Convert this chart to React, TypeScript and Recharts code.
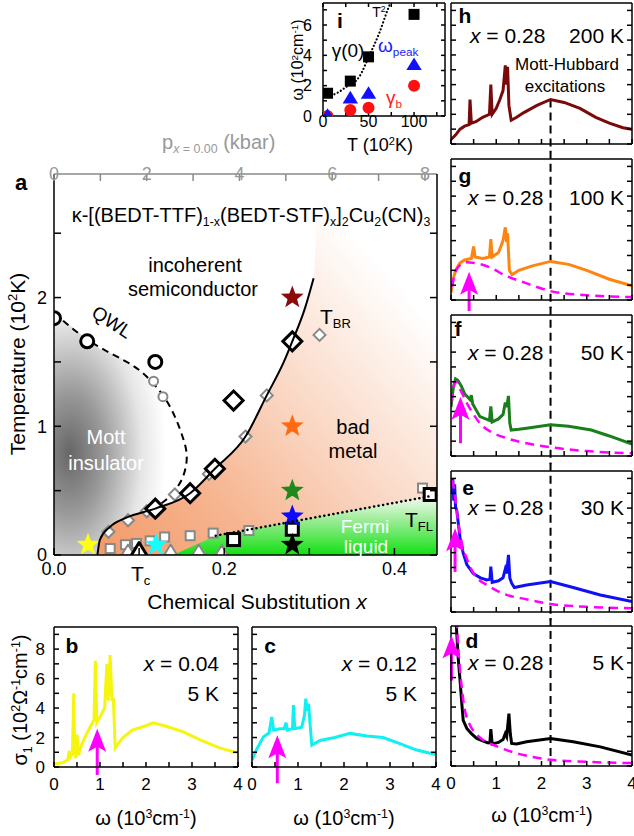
import React from 'react';
import {
  ComposedChart, Line, Area, Scatter, XAxis, YAxis, ReferenceLine, ReferenceDot,
} from 'recharts';

const FONT = '"Liberation Sans", Arial, Helvetica, sans-serif';
const MAG = '#ff00ff';

type Pt = [number, number];
const toXY = (a: Pt[]) => a.map(([x, y]) => ({ x, y }));

// ---------- panel a: phase diagram, x vs T (10^2 K) ----------
const aXTicks = [0, 0.1, 0.2, 0.3, 0.4];
const aXLabels: Record<string, string> = { '0': '0.0', '0.2': '0.2', '0.4': '0.4' };
const aYTicks = [0, 0.5, 1, 1.5, 2, 2.5];
const pTicks = [0, 1, 2, 3, 4, 5, 6, 7, 8]; // kbar, top axis
const X_PER_KBAR = 0.45 / 8.26; // x = 0.45 sits at 8.26 kbar

const qwlCurve: Pt[] = [
  [0, 1.88], [0.04, 1.67], [0.08, 1.52], [0.105, 1.41], [0.128, 1.24], [0.143, 1.06],
  [0.152, 0.9], [0.156, 0.76], [0.151, 0.6], [0.138, 0.47], [0.124, 0.39],
];
const tbrCurve: Pt[] = [
  [0.051, 0], [0.054, 0.12], [0.066, 0.22], [0.085, 0.29], [0.119, 0.36], [0.16, 0.48],
  [0.189, 0.67], [0.225, 0.92], [0.25, 1.24], [0.27, 1.5], [0.28, 1.66], [0.295, 1.92], [0.305, 2.15],
];
const tflCurve: Pt[] = [[0.19, 0.15], [0.445, 0.46]];
// x, lower T, upper T
const mottRegion: [number, number, number][] = [
  [0, 0, 1.88], [0.02, 0, 1.78], [0.04, 0, 1.67], [0.051, 0, 1.62], [0.054, 0.12, 1.6],
  [0.066, 0.22, 1.57], [0.085, 0.29, 1.51], [0.105, 0.33, 1.41], [0.124, 0.39, 1.27],
  [0.138, 0.47, 1.12], [0.145, 0.52, 1.03], [0.151, 0.6, 0.92], [0.155, 0.68, 0.8], [0.157, 0.76, 0.77],
];
const badMetalRegion: Pt[] = [...tbrCurve, [0.312, 2.96], [0.45, 2.96]];
const fermiRegion: Pt[] = [[0.14, 0], [0.19, 0.15], [0.445, 0.46], [0.45, 0.47]];

const bigDiamonds: Pt[] = [[0.119, 0.36], [0.16, 0.48], [0.189, 0.67], [0.211, 1.2], [0.28, 1.66]];
const smallDiamonds: Pt[] = [
  [0.064, 0.18], [0.087, 0.27], [0.109, 0.34], [0.142, 0.47], [0.182, 0.63], [0.225, 0.92], [0.25, 1.24], [0.312, 1.71],
];
const bigCircles: Pt[] = [[0.0, 1.84], [0.039, 1.66], [0.119, 1.5]];
const smallCircles: Pt[] = [[0.117, 1.35], [0.128, 1.23]];
const bigSquares: Pt[] = [[0.211, 0.12], [0.28, 0.2], [0.442, 0.47]];
const smallSquares: Pt[] = [
  [0.066, 0.05], [0.084, 0.08], [0.097, 0.09], [0.113, 0.11], [0.13, 0.14], [0.16, 0.15], [0.187, 0.17], [0.229, 0.19], [0.433, 0.52],
];
const smallTriangles: Pt[] = [[0.087, 0.035], [0.137, 0.035], [0.17, 0.035], [0.197, 0.03]];
const tcTriangle: Pt[] = [[0.1, 0.035]];
const starPts: Pt[] = [[0.04, 0.08], [0.12, 0.08], [0.28, 0.08], [0.28, 0.3], [0.28, 0.5], [0.28, 1.0], [0.28, 2.0]];

// ---------- panel i: inset, T (10^2 K) vs omega (10^2 cm-1) ----------
const iXTicks = [0, 25, 50, 75, 100, 125];
const iYTicks = [0, 1, 2, 3, 4, 5, 6, 7];
const gamma0: Pt[] = [[5, 1.5], [30, 2.3], [50, 3.9], [100, 6.7]];
const omegaPeak: Pt[] = [[5, 0.05], [30, 1.2], [50, 1.5], [100, 3.4]];
const gammaB: Pt[] = [[5, 0.0], [30, 0.4], [50, 0.55], [100, 2.0]];
const t2Fit: Pt[] = [[5, 1.3], [15, 1.5], [25, 1.9], [40, 2.6], [51, 4.0], [62, 5.5], [71, 7.0], [74, 7.45]];

// ---------- spectra, omega (10^3 cm-1) vs sigma1 (10^2 Ohm-1 cm-1) ----------
const wTicks = [0, 0.5, 1, 1.5, 2, 2.5, 3, 3.5, 4];
const sTicks = [0, 1, 2, 3, 4, 5, 6, 7, 8, 9];

const specB: Pt[] = [
  [0, 0.2], [0.2, 0.3], [0.3, 0.5], [0.33, 1.1], [0.36, 0.7], [0.4, 0.9], [0.43, 5.0], [0.45, 1.0], [0.47, 0.6],
  [0.5, 2.2], [0.53, 0.8], [0.6, 1.5], [0.7, 2.2], [0.8, 2.8], [0.87, 3.2], [0.9, 7.2], [0.93, 3.0], [1.0, 3.4],
  [1.1, 4.0], [1.15, 7.0], [1.18, 4.5], [1.22, 7.6], [1.26, 4.5], [1.29, 4.7], [1.33, 1.3], [1.4, 1.6], [1.5, 2.0],
  [1.7, 2.5], [2.0, 2.8], [2.15, 3.0], [2.4, 2.8], [2.8, 2.4], [3.2, 1.8], [3.6, 1.3], [4.0, 0.95],
];
const specC: Pt[] = [
  [0, 0.47], [0.1, 1.2], [0.25, 2.05], [0.37, 2.3], [0.43, 3.4], [0.47, 2.5], [0.6, 2.6], [0.7, 2.6], [0.74, 3.0],
  [0.77, 2.5], [0.88, 2.6], [0.9, 4.2], [0.93, 2.6], [1.08, 2.7], [1.14, 3.5], [1.17, 4.64], [1.2, 3.8], [1.23, 4.3],
  [1.27, 2.6], [1.3, 1.49], [1.48, 1.8], [1.8, 2.0], [2.13, 2.28], [2.5, 2.1], [2.85, 2.0], [3.2, 1.6], [3.58, 1.15], [4.0, 0.84],
];
const specH: Pt[] = [
  [0, 0.3], [0.1, 0.6], [0.2, 1.0], [0.3, 1.2], [0.4, 1.3], [0.42, 3.0], [0.45, 1.4], [0.55, 1.5], [0.7, 1.8],
  [0.85, 2.0], [0.88, 4.0], [0.91, 2.0], [1.0, 2.4], [1.08, 3.0], [1.15, 3.6], [1.2, 5.3], [1.23, 4.0], [1.25, 5.2],
  [1.28, 2.6], [1.33, 1.6], [1.45, 1.8], [1.6, 2.1], [1.9, 2.6], [2.2, 3.0], [2.5, 2.8], [2.85, 2.4], [3.2, 1.8],
  [3.5, 1.4], [3.8, 1.1], [4.0, 1.0],
];
const specG: Pt[] = [
  [0, 0.5], [0.05, 1.4], [0.1, 2.0], [0.2, 2.5], [0.3, 2.7], [0.45, 2.8], [0.5, 3.6], [0.53, 2.9], [0.7, 2.8],
  [0.85, 2.9], [0.88, 4.1], [0.91, 2.9], [1.05, 3.2], [1.15, 4.0], [1.2, 4.9], [1.23, 3.9], [1.25, 4.5], [1.29, 2.0],
  [1.35, 1.7], [1.5, 2.0], [1.8, 2.3], [2.2, 2.6], [2.6, 2.4], [3.0, 2.0], [3.5, 1.4], [4.0, 0.95],
];
const fitG: Pt[] = [
  [0.02, 0.9], [0.1, 1.9], [0.2, 2.35], [0.35, 2.55], [0.5, 2.5], [0.86, 2.2], [1.2, 1.65], [1.6, 1.2], [2.2, 0.6], [3.0, 0.32], [4.0, 0.2],
];
const specF: Pt[] = [
  [0, 3.3], [0.05, 4.6], [0.1, 5.2], [0.15, 5.1], [0.23, 4.7], [0.3, 4.2], [0.42, 3.8], [0.45, 4.1], [0.48, 3.5],
  [0.64, 2.65], [0.85, 2.4], [0.88, 3.35], [0.91, 2.3], [1.05, 2.5], [1.15, 2.8], [1.2, 3.6], [1.23, 3.3], [1.27, 4.05],
  [1.3, 2.2], [1.33, 1.75], [1.5, 1.8], [1.67, 1.87], [2.2, 2.1], [2.6, 2.0], [3.1, 1.75], [3.5, 1.35], [4.0, 0.8],
];
const fitF: Pt[] = [
  [0, 3.6], [0.05, 4.6], [0.12, 5.0], [0.2, 4.5], [0.35, 3.56], [0.5, 2.8], [0.64, 2.2], [0.9, 1.6], [1.23, 1.2],
  [1.6, 0.9], [2.2, 0.59], [3.0, 0.33], [4.0, 0.18],
];
const specE: Pt[] = [
  [0.02, 8.0], [0.04, 9.0], [0.06, 7.5], [0.08, 8.6], [0.1, 7.1], [0.13, 6.8], [0.16, 6.0], [0.2, 5.0], [0.27, 3.96],
  [0.35, 3.2], [0.49, 2.6], [0.65, 2.3], [0.79, 2.16], [0.86, 2.2], [0.88, 3.06], [0.91, 2.0], [1.05, 2.1], [1.15, 2.3],
  [1.2, 2.9], [1.23, 2.6], [1.27, 3.85], [1.3, 2.3], [1.34, 1.94], [1.4, 1.65], [1.67, 1.82], [2.2, 2.05], [2.7, 1.65],
  [3.3, 1.15], [4.0, 0.7],
];
const fitE: Pt[] = [
  [0.03, 8.9], [0.08, 8.0], [0.16, 6.0], [0.25, 4.5], [0.35, 3.6], [0.5, 2.6], [0.86, 1.7], [1.23, 1.15], [1.6, 0.9],
  [2.2, 0.54], [3.0, 0.35], [4.0, 0.25],
];
const specD: Pt[] = [
  [0.08, 14], [0.12, 9.4], [0.16, 7.3], [0.2, 5.8], [0.24, 4.2], [0.27, 3.1], [0.35, 2.55], [0.45, 2.2], [0.57, 1.87],
  [0.7, 1.7], [0.82, 1.57], [0.86, 1.6], [0.88, 2.5], [0.91, 1.5], [1.05, 1.6], [1.15, 1.8], [1.2, 2.2], [1.23, 2.0],
  [1.28, 3.56], [1.31, 2.2], [1.34, 1.53], [1.45, 1.5], [1.67, 1.64], [2.2, 1.87], [2.7, 1.65], [3.3, 1.3], [4.0, 0.74],
];
const fitD: Pt[] = [
  [0.1, 12], [0.15, 8.5], [0.2, 6.5], [0.25, 5.0], [0.3, 3.9], [0.4, 2.9], [0.55, 2.2], [0.71, 1.76], [1.0, 1.35],
  [1.23, 1.08], [1.6, 0.75], [2.2, 0.42], [3.0, 0.28], [4.0, 0.2],
];
// arrows: omega, tail sigma, tip sigma
const arrowB: [number, number, number] = [0.94, -0.54, 2.6];
const arrowC: [number, number, number] = [0.55, -1.1, 2.16];
const arrowG: [number, number, number] = [0.4, -1.15, 1.9];
const arrowF: [number, number, number] = [0.21, 0.86, 4.0];
const arrowE: [number, number, number] = [0.09, 2.7, 5.65];
const arrowD: [number, number, number] = [0.01, 5.8, 8.85];
const mottHubbardPeak = 2.2;

// ---------- marker shapes ----------
const diamond = (h: number, stroke: string, sw: number) => (p: any) => (
  <path d={`M${p.cx},${p.cy - h}L${p.cx + h},${p.cy}L${p.cx},${p.cy + h}L${p.cx - h},${p.cy}Z`} fill="#fff" stroke={stroke} strokeWidth={sw} />
);
const circle = (r: number, stroke: string, sw: number, fill = '#fff') => (p: any) => (
  <circle cx={p.cx} cy={p.cy} r={r} fill={fill} stroke={stroke} strokeWidth={sw} />
);
const square = (h: number, stroke: string, sw: number, fill = '#fff') => (p: any) => (
  <rect x={p.cx - h} y={p.cy - h} width={2 * h} height={2 * h} fill={fill} stroke={stroke} strokeWidth={sw} />
);
const triangle = (h: number, stroke: string, sw: number, fill = '#fff') => (p: any) => (
  <path d={`M${p.cx},${p.cy - h}L${p.cx + h * 1.1},${p.cy + h * 0.8}L${p.cx - h * 1.1},${p.cy + h * 0.8}Z`} fill={fill} stroke={stroke} strokeWidth={sw} strokeLinejoin="round" />
);
const star = (R: number, fill: string) => (p: any) => {
  const pts: string[] = [];
  for (let i = 0; i < 10; i++) {
    const r = i % 2 === 0 ? R : R * 0.42;
    const a = -Math.PI / 2 + (i * Math.PI) / 5;
    pts.push(`${p.cx + r * Math.cos(a)},${p.cy + r * Math.sin(a)}`);
  }
  return <polygon points={pts.join(' ')} fill={fill} />;
};
const arrowHead = (p: any) => (
  <polygon points={`${p.cx},${p.cy} ${p.cx + 9},${p.cy + 23} ${p.cx},${p.cy + 18} ${p.cx - 9},${p.cy + 23}`} fill={MAG} />
);

const STAR_COLORS = ['#ffff10', '#10ffff', '#000000', '#0a0aff', '#1e8a1e', '#ff6a10', '#8b0a0a'];

// ---------- text helper ----------
type TxtProps = {
  x: number; y: number; size?: number; color?: string; anchor?: 'start' | 'middle' | 'end';
  bold?: boolean; rotate?: number; children: React.ReactNode;
};
const Txt = ({ x, y, size = 20, color = '#000', anchor = 'middle', bold, rotate, children }: TxtProps) => {
  const tx = anchor === 'start' ? '0' : anchor === 'end' ? '-100%' : '-50%';
  return (
    <div style={{
      position: 'absolute', left: x, top: y, transform: `translate(${tx}, -50%)${rotate ? ` rotate(${rotate}deg)` : ''}`,
      fontSize: size, color, fontFamily: FONT, fontWeight: bold ? 'bold' : 'normal', whiteSpace: 'nowrap', lineHeight: 1,
    }}>
      {children}
    </div>
  );
};
const Sub = ({ children }: { children: React.ReactNode }) => (
  <span style={{ fontSize: '0.62em', verticalAlign: '-0.35em' }}>{children}</span>
);
const Sup = ({ children }: { children: React.ReactNode }) => (
  <span style={{ fontSize: '0.62em', verticalAlign: '0.6em' }}>{children}</span>
);

// ---------- panel a ----------
const A_BOX = { L: 0, T: 120, W: 450, H: 480 };
const A_PLOT = { l: 54, t: 174, r: 437, b: 555 };

// regions, QWL curve and markers, on hidden axes
function PhaseContent() {
  const { L, T, W, H } = A_BOX;
  const margin = { left: A_PLOT.l - L, top: A_PLOT.t - T, right: L + W - A_PLOT.r, bottom: T + H - A_PLOT.b };
  return (
    <div style={{ position: 'absolute', left: L, top: T }}>
      <ComposedChart width={W} height={H} margin={margin}>
        <defs>
          <radialGradient id="mottGrad" cx="0.12" cy="0.58" r="0.72">
            <stop offset="0" stopColor="#666" />
            <stop offset="0.35" stopColor="#9a9a9a" />
            <stop offset="0.75" stopColor="#e6e6e6" />
            <stop offset="1" stopColor="#fff" />
          </radialGradient>
          <linearGradient id="badGrad" x1="0" y1="1" x2="0.8" y2="0.2">
            <stop offset="0" stopColor="#f39a68" />
            <stop offset="0.3" stopColor="#f6b48f" />
            <stop offset="0.6" stopColor="#fad6c2" />
            <stop offset="0.85" stopColor="#fdf0e8" />
            <stop offset="1" stopColor="#fff" />
          </linearGradient>
          <linearGradient id="flGrad" x1="0" y1="0" x2="0" y2="1">
            <stop offset="0" stopColor="#ffffff" stopOpacity="0.9" />
            <stop offset="0.45" stopColor="#8cee8c" stopOpacity="0.92" />
            <stop offset="1" stopColor="#10e010" stopOpacity="1" />
          </linearGradient>
        </defs>
        <XAxis dataKey="x" type="number" domain={[0, 0.45]} allowDataOverflow hide />
        <YAxis type="number" domain={[0, 2.96]} allowDataOverflow hide />
        <Area data={mottRegion.map(([x, lo, hi]) => ({ x, r: [lo, hi] }))} dataKey="r" type="linear"
          stroke="none" fill="url(#mottGrad)" fillOpacity={1} isAnimationActive={false} />
        <Area data={toXY(badMetalRegion)} dataKey="y" type="monotone" stroke="none" fill="url(#badGrad)"
          fillOpacity={1} isAnimationActive={false} />
        <Area data={toXY(fermiRegion)} dataKey="y" type="linear" stroke="none" fill="url(#flGrad)"
          fillOpacity={1} isAnimationActive={false} />
        <Line data={toXY(qwlCurve)} dataKey="y" type="natural" stroke="#000" strokeWidth={2}
          strokeDasharray="7 5" dot={false} activeDot={false} isAnimationActive={false} />
        <Scatter data={toXY(smallDiamonds)} dataKey="y" shape={diamond(6, '#888', 2)} isAnimationActive={false} />
        <Scatter data={toXY(smallCircles)} dataKey="y" shape={circle(4.5, '#888', 2)} isAnimationActive={false} />
        <Scatter data={toXY(smallSquares)} dataKey="y" shape={square(4.5, '#888', 2)} isAnimationActive={false} />
        <Scatter data={toXY(smallTriangles)} dataKey="y" shape={triangle(6, '#888', 2)} isAnimationActive={false} />
        <Scatter data={toXY(bigDiamonds)} dataKey="y" shape={diamond(9.5, '#000', 3)} isAnimationActive={false} />
        <Scatter data={toXY(bigCircles)} dataKey="y" shape={circle(6.5, '#000', 3)} isAnimationActive={false} />
        <Scatter data={toXY(bigSquares)} dataKey="y" shape={square(6, '#000', 3)} isAnimationActive={false} />
        <Scatter data={toXY(tcTriangle)} dataKey="y" shape={triangle(8, '#000', 3)} isAnimationActive={false} />
        {starPts.map((s, i) => (
          <Scatter key={i} data={toXY([s])} dataKey="y" shape={star(12, STAR_COLORS[i])} isAnimationActive={false} />
        ))}
      </ComposedChart>
    </div>
  );
}

// bottom + left axes, with the T_BR line
function PhaseFrameBL() {
  const { L, T, W, H } = A_BOX;
  const margin = { left: A_PLOT.l - L - 30, top: A_PLOT.t - T, right: L + W - A_PLOT.r, bottom: T + H - A_PLOT.b - 30 };
  const tick = { fill: '#000', fontSize: 18, fontFamily: FONT };
  return (
    <div style={{ position: 'absolute', left: L, top: T }}>
      <ComposedChart width={W} height={H} margin={margin}>
        <XAxis dataKey="x" type="number" domain={[0, 0.45]} ticks={aXTicks} interval={0} allowDataOverflow
          height={30} tickSize={-7} tickMargin={14} stroke="#000" strokeWidth={1.5} tick={tick}
          tickFormatter={(v: number) => aXLabels[String(v)] ?? ''} />
        <YAxis type="number" domain={[0, 2.96]} ticks={aYTicks} interval={0} allowDataOverflow width={30}
          tickSize={-7} tickMargin={14} stroke="#000" strokeWidth={1.5} tick={tick}
          tickFormatter={(v: number) => (Number.isInteger(v) ? String(v) : '')} />
        <Line data={toXY(tbrCurve)} dataKey="y" type="monotone" stroke="#000" strokeWidth={2}
          dot={false} activeDot={false} isAnimationActive={false} />
      </ComposedChart>
    </div>
  );
}

// top (pressure) + right axes, with the T_FL line
function PhaseFrameTR() {
  const { L, T, W, H } = A_BOX;
  const margin = { left: A_PLOT.l - L, top: A_PLOT.t - T - 30, right: L + W - A_PLOT.r - 1, bottom: T + H - A_PLOT.b };
  const tick = { fill: '#999', fontSize: 18, fontFamily: FONT };
  return (
    <div style={{ position: 'absolute', left: L, top: T }}>
      <ComposedChart width={W} height={H} margin={margin}>
        <XAxis dataKey="x" orientation="top" type="number" domain={[0, 0.45]}
          ticks={pTicks.map((k) => k * X_PER_KBAR)} interval={0} allowDataOverflow
          height={30} tickSize={-7} tickMargin={1} stroke="#8a8a8a" strokeWidth={1.5} tick={tick}
          tickFormatter={(v: number) => {
            const k = Math.round(v / X_PER_KBAR);
            return k % 2 === 0 ? String(k) : '';
          }} />
        <YAxis orientation="right" type="number" domain={[0, 2.96]} ticks={aYTicks} interval={0} allowDataOverflow
          width={1} tickSize={-7} stroke="#000" strokeWidth={1.5} tickFormatter={() => ''} />
        <Line data={toXY(tflCurve)} dataKey="y" type="linear" stroke="#000" strokeWidth={2.5}
          strokeDasharray="0.1 4.5" strokeLinecap="round" dot={false} activeDot={false} isAnimationActive={false} />
      </ComposedChart>
    </div>
  );
}

// ---------- panel i ----------
const I_BOX = { L: 270, T: 0, W: 180, H: 140 };
const I_PLOT = { l: 323, t: 3, r: 445, b: 116 };

function Inset() {
  const { L, T, W, H } = I_BOX;
  const margin = { left: I_PLOT.l - L - 20, top: I_PLOT.t - T, right: L + W - I_PLOT.r, bottom: T + H - I_PLOT.b - 20 };
  const tick = { fill: '#000', fontSize: 16, fontFamily: FONT };
  return (
    <div style={{ position: 'absolute', left: L, top: T }}>
      <ComposedChart width={W} height={H} margin={margin}>
        <XAxis dataKey="x" type="number" domain={[0, 134]} ticks={iXTicks} interval={0} allowDataOverflow
          height={20} tickSize={-4} tickMargin={4} stroke="#000" strokeWidth={1.5} tick={tick}
          tickFormatter={(v: number) => (v % 50 === 0 ? String(v) : '')} />
        <YAxis type="number" domain={[0, 7.45]} ticks={iYTicks} interval={0} allowDataOverflow width={20}
          tickSize={-4} tickMargin={15} stroke="#000" strokeWidth={1.5} tick={tick}
          tickFormatter={(v: number) => (v % 2 === 0 ? String(v) : '')} />
        <Line data={toXY(t2Fit)} dataKey="y" type="monotone" stroke="#000" strokeWidth={2.2}
          strokeDasharray="0.1 3.5" strokeLinecap="round" dot={false} activeDot={false} isAnimationActive={false} />
        <Scatter data={toXY(gammaB)} dataKey="y" shape={circle(6, '#ff1010', 0, '#ff1010')} isAnimationActive={false} />
        <Scatter data={toXY(omegaPeak)} dataKey="y" shape={triangle(7, '#1010ff', 0, '#1010ff')} isAnimationActive={false} />
        <Scatter data={toXY(gamma0)} dataKey="y" shape={square(5.5, '#000', 0, '#000')} isAnimationActive={false} />
      </ComposedChart>
    </div>
  );
}

function InsetFrameTR() {
  const { L, T, W, H } = I_BOX;
  const margin = { left: I_PLOT.l - L, top: I_PLOT.t - T - 1, right: L + W - I_PLOT.r - 1, bottom: T + H - I_PLOT.b };
  return (
    <div style={{ position: 'absolute', left: L, top: T }}>
      <ComposedChart width={W} height={H} margin={margin}>
        <XAxis dataKey="x" orientation="top" type="number" domain={[0, 134]} ticks={iXTicks} interval={0}
          allowDataOverflow height={1} tickSize={-4} stroke="#000" strokeWidth={1.5} tickFormatter={() => ''} />
        <YAxis orientation="right" type="number" domain={[0, 7.45]} ticks={iYTicks} interval={0} allowDataOverflow
          width={1} tickSize={-4} stroke="#000" strokeWidth={1.5} tickFormatter={() => ''} />
        <Line data={toXY(gamma0)} dataKey="y" type="linear" stroke="none" dot={false} activeDot={false}
          isAnimationActive={false} />
      </ComposedChart>
    </div>
  );
}

// ---------- spectra ----------
type SpecProps = {
  box: [number, number, number, number];
  plot: [number, number, number, number];
  yw: number; xh: number;
  spec: Pt[]; color: string; fit?: Pt[];
  arrow?: [number, number, number];
  vline?: [number, number];
  xLabels?: boolean; yLabels?: boolean;
};

function SpecPanel({ box, plot, yw, xh, spec, color, fit, arrow, vline, xLabels, yLabels }: SpecProps) {
  const [L, T, W, H] = box;
  const [pl, pt, pr, pb] = plot;
  const margin = { left: pl - L - yw, top: pt - T - 1, right: L + W - pr - 1, bottom: T + H - pb - xh };
  const tick = { fill: '#000', fontSize: 17, fontFamily: FONT };
  const none = () => '';
  return (
    <div style={{ position: 'absolute', left: L, top: T }}>
      <ComposedChart width={W} height={H} margin={margin}>
        <XAxis dataKey="x" type="number" domain={[0, 4]} ticks={wTicks} interval={0} allowDataOverflow
          height={xh} tickSize={-5} tickMargin={16} stroke="#000" strokeWidth={1.5} tick={tick}
          tickFormatter={(v: number) => (xLabels && Number.isInteger(v) ? String(v) : '')} />
        <XAxis xAxisId="t" orientation="top" type="number" domain={[0, 4]} ticks={wTicks} interval={0}
          allowDataOverflow height={1} tickSize={-5} stroke="#000" strokeWidth={1.5} tickFormatter={none} />
        <YAxis type="number" domain={[0, 9.5]} ticks={sTicks} interval={0} allowDataOverflow width={yw}
          tickSize={-5} tickMargin={14} stroke="#000" strokeWidth={1.5} tick={tick}
          tickFormatter={(v: number) => (yLabels && v % 2 === 0 ? String(v) : '')} />
        <YAxis yAxisId="r" orientation="right" type="number" domain={[0, 9.5]} ticks={sTicks} interval={0}
          allowDataOverflow width={1} tickSize={-5} stroke="#000" strokeWidth={1.5} tickFormatter={none} />
        {vline && (
          <ReferenceLine segment={[{ x: mottHubbardPeak, y: vline[0] }, { x: mottHubbardPeak, y: vline[1] }]}
            stroke="#000" strokeWidth={2} strokeDasharray="8 5" ifOverflow="visible" />
        )}
        <Line data={toXY(spec)} dataKey="y" type="linear" stroke={color} strokeWidth={3}
          dot={false} activeDot={false} isAnimationActive={false} />
        {fit && (
          <Line data={toXY(fit)} dataKey="y" type="monotone" stroke={MAG} strokeWidth={2.5}
            strokeDasharray="9 6" dot={false} activeDot={false} isAnimationActive={false} />
        )}
        {arrow && (
          <ReferenceLine segment={[{ x: arrow[0], y: arrow[1] }, { x: arrow[0], y: arrow[2] - 0.8 }]}
            stroke={MAG} strokeWidth={3} ifOverflow="visible" />
        )}
        {arrow && <ReferenceDot x={arrow[0]} y={arrow[2]} ifOverflow="visible" shape={arrowHead} />}
      </ComposedChart>
    </div>
  );
}

const XEq = ({ v }: { v: string }) => (<><i>x</i> = {v}</>);
const OmegaLabel = () => (<>ω (10<Sup>3</Sup>cm<Sup>-1</Sup>)</>);

export default function App() {
  const rp = (top: number): [number, number, number, number] => [451, top, 632, top + 141];
  return (
    <div style={{ position: 'absolute', left: 0, top: 0, width: 634, height: 836, background: '#fff', overflow: 'hidden', fontFamily: FONT }}>
      <PhaseContent />
      <PhaseFrameBL />
      <PhaseFrameTR />
      <Inset />
      <InsetFrameTR />
      <SpecPanel box={[0, 600, 245, 236]} plot={[54, 627, 238, 767]} yw={30} xh={25} spec={specB} color="#f5f510"
        arrow={arrowB} xLabels yLabels />
      <SpecPanel box={[245, 600, 200, 236]} plot={[252, 627, 436, 767]} yw={5} xh={25} spec={specC} color="#10f0f0"
        arrow={arrowC} xLabels />
      <SpecPanel box={[430, 0, 204, 154]} plot={rp(3)} yw={10} xh={1} spec={specH} color="#7a0a0a" vline={[3.0, -0.55]} />
      <SpecPanel box={[430, 149, 204, 162]} plot={rp(159)} yw={10} xh={1} spec={specG} color="#ff8410" fit={fitG}
        arrow={arrowG} vline={[10.05, -0.55]} />
      <SpecPanel box={[430, 305, 204, 161]} plot={rp(315)} yw={10} xh={1} spec={specF} color="#1a7f1a" fit={fitF}
        arrow={arrowF} vline={[10.05, -0.55]} />
      <SpecPanel box={[430, 461, 204, 161]} plot={rp(471)} yw={10} xh={1} spec={specE} color="#1010f5" fit={fitE}
        arrow={arrowE} vline={[10.05, -0.55]} />
      <SpecPanel box={[430, 616, 204, 220]} plot={[451, 626, 632, 766]} yw={10} xh={25} spec={specD} color="#000"
        fit={fitD} arrow={arrowD} vline={[10.05, 0]} xLabels />

      {/* panel a text */}
      <Txt x={21} y={183} size={22} bold>a</Txt>
      <Txt x={251} y={217} size={20}>
        κ-[(BEDT-TTF)<Sub>1-x</Sub>(BEDT-STF)<Sub>x</Sub>]<Sub>2</Sub>Cu<Sub>2</Sub>(CN)<Sub>3</Sub>
      </Txt>
      <Txt x={195} y={265} size={20}>incoherent</Txt>
      <Txt x={193} y={289} size={20}>semiconductor</Txt>
      <Txt x={112} y={322} size={19} rotate={33}>QWL</Txt>
      <Txt x={320} y={318} size={21} anchor="start">T<Sub>BR</Sub></Txt>
      <Txt x={106} y={437} size={20} color="#fff">Mott</Txt>
      <Txt x={106} y={463} size={20} color="#fff">insulator</Txt>
      <Txt x={353} y={427} size={20}>bad</Txt>
      <Txt x={353} y={451} size={20}>metal</Txt>
      <Txt x={365} y={526} size={19} color="#fff">Fermi</Txt>
      <Txt x={366} y={546} size={19} color="#fff">liquid</Txt>
      <Txt x={405} y={521} size={21} anchor="start">T<Sub>FL</Sub></Txt>
      <Txt x={131} y={575} size={21} anchor="start">T<Sub>c</Sub></Txt>
      <Txt x={162} y={144} size={20} color="#999" anchor="start">
        p<Sub><i>x</i> = 0.00</Sub> (kbar)
      </Txt>
      <Txt x={257} y={601} size={21}>Chemical Substitution <i>x</i></Txt>
      <Txt x={17} y={364} size={21} rotate={-90}>Temperature (10<Sup>2</Sup>K)</Txt>

      {/* panel i text */}
      <Txt x={340} y={20} size={21} bold>i</Txt>
      <Txt x={379} y={12} size={14}>T<Sup>2</Sup></Txt>
      <Txt x={348} y={50} size={19}>γ(0)</Txt>
      <Txt x={378} y={47} size={19} color="#1a1aff" anchor="start">ω<Sub>peak</Sub></Txt>
      <Txt x={386} y={99} size={19} color="#ff1a1a" anchor="start">γ<Sub>b</Sub></Txt>
      <Txt x={298} y={60} size={16} rotate={-90}>ω (10<Sup>2</Sup>cm<Sup>-1</Sup>)</Txt>
      <Txt x={380} y={145} size={18}>T (10<Sup>2</Sup>K)</Txt>

      {/* panels b, c text */}
      <Txt x={72} y={645} size={21} bold>b</Txt>
      <Txt x={219} y={663} size={21} anchor="end"><XEq v="0.04" /></Txt>
      <Txt x={219} y={693} size={21} anchor="end">5 K</Txt>
      <Txt x={270} y={645} size={21} bold>c</Txt>
      <Txt x={417} y={663} size={21} anchor="end"><XEq v="0.12" /></Txt>
      <Txt x={417} y={693} size={21} anchor="end">5 K</Txt>
      <Txt x={22} y={700} size={20} rotate={-90}>σ<Sub>1</Sub> (10<Sup>2</Sup>Ω<Sup>-1</Sup>cm<Sup>-1</Sup>)</Txt>
      <Txt x={146} y={818} size={20}><OmegaLabel /></Txt>
      <Txt x={344} y={818} size={20}><OmegaLabel /></Txt>

      {/* panels d-h text */}
      <Txt x={465} y={15} size={21} bold>h</Txt>
      <Txt x={470} y={35} size={21} anchor="start"><XEq v="0.28" /></Txt>
      <Txt x={624} y={35} size={21} anchor="end">200 K</Txt>
      <Txt x={567} y={64} size={17}>Mott-Hubbard</Txt>
      <Txt x={565} y={86} size={17}>excitations</Txt>
      <Txt x={465} y={175} size={21} bold>g</Txt>
      <Txt x={468} y={197} size={21} anchor="start"><XEq v="0.28" /></Txt>
      <Txt x={624} y={197} size={21} anchor="end">100 K</Txt>
      <Txt x={458} y={328} size={21} bold>f</Txt>
      <Txt x={468} y={352} size={21} anchor="start"><XEq v="0.28" /></Txt>
      <Txt x={624} y={352} size={21} anchor="end">50 K</Txt>
      <Txt x={468} y={487} size={21} bold>e</Txt>
      <Txt x={468} y={507} size={21} anchor="start"><XEq v="0.28" /></Txt>
      <Txt x={624} y={507} size={21} anchor="end">30 K</Txt>
      <Txt x={472} y={640} size={21} bold>d</Txt>
      <Txt x={468} y={662} size={21} anchor="start"><XEq v="0.28" /></Txt>
      <Txt x={624} y={662} size={21} anchor="end">5 K</Txt>
      <Txt x={542} y={815} size={20}><OmegaLabel /></Txt>
    </div>
  );
}
